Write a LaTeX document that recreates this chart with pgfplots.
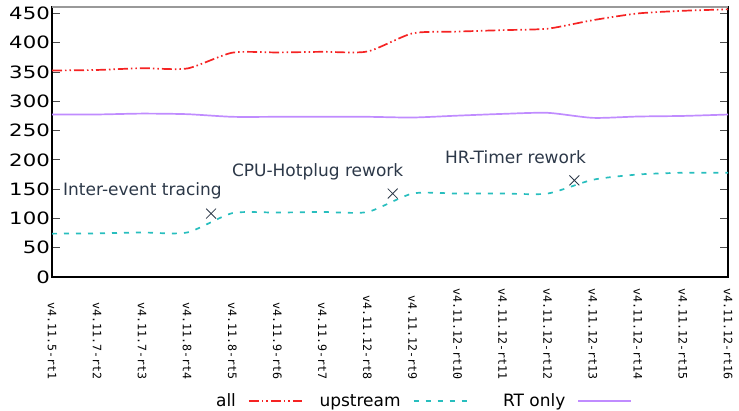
\documentclass[border=0pt]{standalone}
\usepackage{fontspec}
\setmainfont{DejaVu Sans}
\setmonofont{DejaVu Sans Mono}
\newfontfamily\tickfont[FakeStretch=1.25]{DejaVu Sans}
\usepackage{pgfplots}
\pgfplotsset{compat=1.18}

\definecolor{allred}{RGB}{245,35,35}
\definecolor{upteal}{RGB}{40,190,190}
\definecolor{rtpurple}{RGB}{192,140,255}
\definecolor{annot}{RGB}{44,56,72}

\begin{document}
\begin{tikzpicture}
\useasboundingbox (-52pt,-134pt) rectangle (687pt,277pt);
\begin{axis}[
    name=ax,
    at={(0,0)}, anchor=south west,
    scale only axis,
    width=676pt, height=270pt,
    xmin=1, xmax=16, ymin=0, ymax=461,
    xtick={1,...,16},
    xticklabels={v4.11.5-rt1, v4.11.7-rt2, v4.11.7-rt3, v4.11.8-rt4,
                 v4.11.8-rt5, v4.11.9-rt6, v4.11.9-rt7, v4.11.12-rt8,
                 v4.11.12-rt9, v4.11.12-rt10, v4.11.12-rt11, v4.11.12-rt12,
                 v4.11.12-rt13, v4.11.12-rt14, v4.11.12-rt15, v4.11.12-rt16},
    xticklabel style={font=\ttfamily\fontsize{11.6}{12}\selectfont,
        rotate=-90, anchor=west, text width=100pt, align=right, inner sep=0pt},
    xticklabel shift=2pt,
    xtick style={draw=none},
    ytick={0,50,...,450},
    yticklabel style={font=\tickfont\fontsize{17}{17}\selectfont, inner sep=0pt, xshift=-2pt},
    /pgf/number format/assume math mode=true,
    tick align=inside,
    major tick length=8pt,
    ytick style={gray!60!black, line width=1pt},
    axis line style={black, line width=1.2pt},
    legend columns=3,
    legend plot pos=right,
    legend style={at={(0.5,-0.46)}, anchor=center, draw=none, fill=none,
        font=\fontsize{17}{17}\selectfont, column sep=10pt, inner sep=0pt},
    legend image code/.code={\draw[#1] (0pt,0pt) -- (53pt,0pt);},
    every axis plot/.append style={tension=0.4},
]
\addplot[smooth, color=allred, line width=1.7pt,
    dash pattern=on 10pt off 3pt on 1.5pt off 3pt on 1.5pt off 3pt]
    coordinates {(1,352.6) (2,353.5) (3,356.5) (4,356) (5,383) (6,383.4)
                 (7,384.5) (8,385) (9,416) (10,419) (11,421.5) (12,424)
                 (13,438.5) (14,450) (15,454.5) (16,457)};
\addlegendentry{\makebox[86pt][r]{all}}
\addplot[smooth, color=upteal, line width=1.7pt, dash pattern=on 5pt off 7pt]
    coordinates {(1,74) (2,74.5) (3,76) (4,76) (5,109) (6,110) (7,111)
                 (8,111) (9,142.5) (10,142.5) (11,142.5) (12,142.5)
                 (13,166) (14,175) (15,178) (16,178)};
\addlegendentry{\makebox[86pt][r]{upstream}}
\addplot[smooth, color=rtpurple, line width=1.7pt]
    coordinates {(1,277.5) (2,277.5) (3,279) (4,278) (5,273.5) (6,273.5)
                 (7,273.5) (8,273.5) (9,272.3) (10,275.5) (11,278.5) (12,280.3)
                 (13,271.7) (14,274) (15,275) (16,277.4)};
\addlegendentry{\makebox[86pt][r]{RT only}}
\addplot[only marks, mark=x, mark size=7pt, color=annot,
    mark options={line width=0.8pt}, forget plot]
    coordinates {(4.53,108.3) (8.56,142.5) (12.59,165)};
\node[anchor=base west, text=annot, inner sep=0pt, font=\fontsize{17}{17}\selectfont]
    at (axis cs:1.244,139.6) {Inter-event tracing};
\node[anchor=base west, text=annot, inner sep=0pt, font=\fontsize{17}{17}\selectfont]
    at (axis cs:4.99,172) {CPU-Hotplug rework};
\node[anchor=base west, text=annot, inner sep=0pt, font=\fontsize{17}{17}\selectfont]
    at (axis cs:9.72,193.7) {HR-Timer rework};
\end{axis}
\draw[gray!80, line width=1.3pt] (ax.north west) -- (ax.north east);
\end{tikzpicture}
\end{document}
